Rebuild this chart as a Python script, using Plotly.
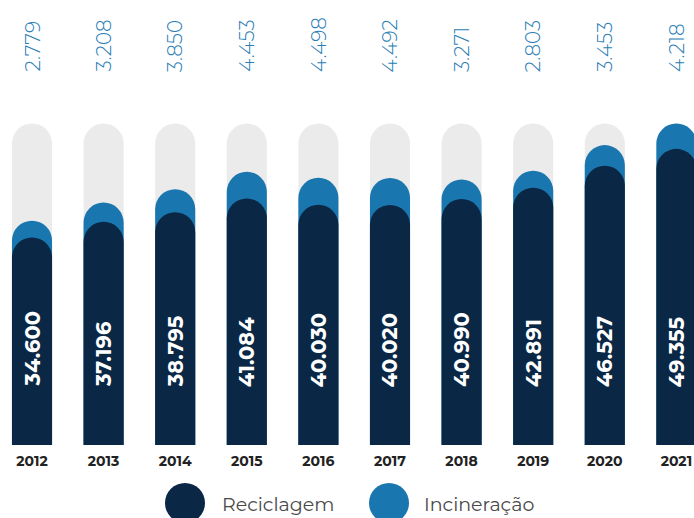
import plotly.graph_objects as go

years = ["2012", "2013", "2014", "2015", "2016", "2017", "2018", "2019", "2020", "2021"]
reciclagem = [34600, 37196, 38795, 41084, 40030, 40020, 40990, 42891, 46527, 49355]
incineracao = [2779, 3208, 3850, 4453, 4498, 4492, 3271, 2803, 3453, 4218]
reciclagem_labels = ["34.600", "37.196", "38.795", "41.084", "40.030", "40.020", "40.990", "42.891", "46.527", "49.355"]
incineracao_labels = ["2.779", "3.208", "3.850", "4.453", "4.498", "4.492", "3.271", "2.803", "3.453", "4.218"]

totals = [r + i for r, i in zip(reciclagem, incineracao)]
track = [max(totals)] * len(years)

DARK = "#0a2745"
BLUE = "#1a76ae"
GRAY = "#ebebeb"
W, H = 694, 518
PLOT_BOTTOM = 445  # px from top

def py(p):
    return (PLOT_BOTTOM - p) / PLOT_BOTTOM

fig = go.Figure()
bw = 0.56
fig.add_trace(go.Bar(x=years, y=track, width=bw, xaxis="x",
                     marker=dict(color=GRAY, cornerradius="50%", line_width=0),
                     hoverinfo="skip", showlegend=False))
fig.add_trace(go.Bar(x=years, y=totals, width=bw, name="Incineração", xaxis="x2",
                     marker=dict(color=BLUE, cornerradius="50%", line_width=0), showlegend=False))
fig.add_trace(go.Bar(x=years, y=reciclagem, width=bw, name="Reciclagem", xaxis="x3",
                     marker=dict(color=DARK, cornerradius="50%", line_width=0), showlegend=False))

annotations = []
for i, lab in enumerate(incineracao_labels):
    annotations.append(dict(x=i, xref="x", y=py(74), yref="paper", text=lab, textangle=-90,
                            showarrow=False, xanchor="center", yanchor="bottom",
                            font=dict(family="Montserrat, Open Sans", size=20, color="#2a7db5", weight=300)))
for i, lab in enumerate(reciclagem_labels):
    annotations.append(dict(x=i, xref="x", y=py(389), yref="paper", text=lab, textangle=-90,
                            showarrow=False, xanchor="center", yanchor="bottom",
                            font=dict(family="Montserrat, Open Sans", size=21, color="white", weight="bold")))

legend_items = [("Reciclagem", DARK, 185, 220), ("Incineração", BLUE, 389, 422)]
shapes = []
for name, col, cx, tx in legend_items:
    shapes.append(dict(type="circle", xref="paper", yref="paper", xsizemode="pixel", ysizemode="pixel",
                       xanchor=cx / W, yanchor=py(503), x0=-20, x1=20, y0=-20, y1=20,
                       fillcolor=col, line_width=0))
    annotations.append(dict(x=tx / W, xref="paper", y=py(505), yref="paper", text=name, showarrow=False,
                            xanchor="left", yanchor="middle",
                            font=dict(family="Montserrat, Open Sans", size=19, color="#4a4a4a")))

ymax = PLOT_BOTTOM / 0.006
xr = [-0.447, 9.246]
hidden_x = dict(type="category", range=xr, overlaying="x", visible=False, showgrid=False, zeroline=False)
fig.update_layout(
    width=W, height=H, margin=dict(l=0, r=0, t=0, b=H - PLOT_BOTTOM),
    barmode="overlay", plot_bgcolor="white", paper_bgcolor="white",
    xaxis=dict(type="category", range=xr, showgrid=False, showline=False, zeroline=False,
               ticks="", ticklabelstandoff=6,
               tickfont=dict(family="Montserrat, Open Sans", size=14, color="#222222", weight="bold")),
    xaxis2=hidden_x, xaxis3=hidden_x,
    yaxis=dict(range=[0, ymax], visible=False),
    annotations=annotations, shapes=shapes, hovermode=False,
)
fig.write_html("out.html", config={"displayModeBar": False},
               post_script="document.body.style.margin='0';document.body.style.overflow='hidden';")
